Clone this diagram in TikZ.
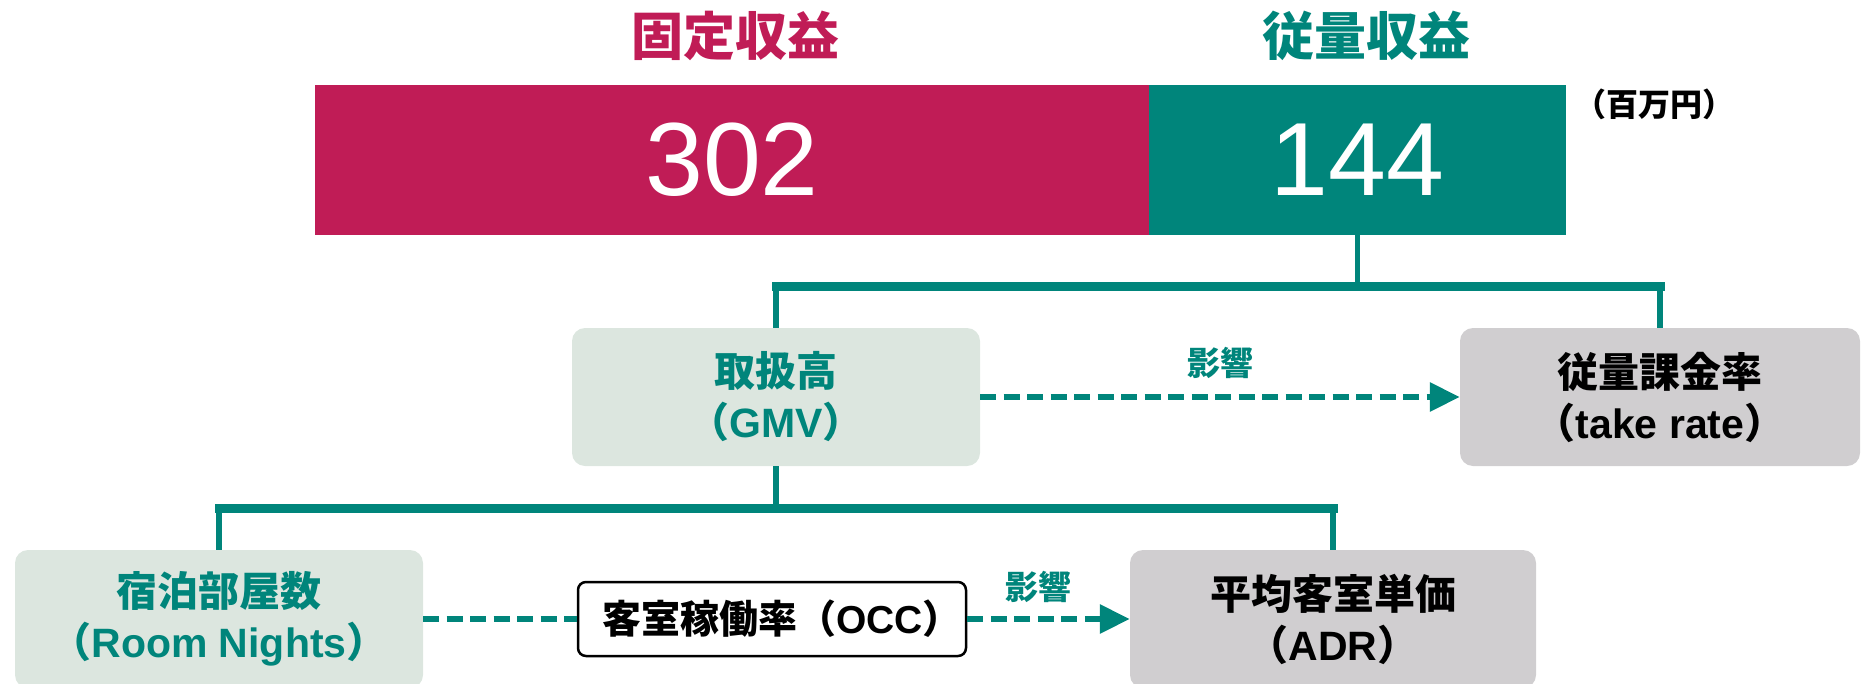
\documentclass[tikz,border=0pt]{standalone}
\usepackage{fontspec}
\setmainfont{Liberation Sans}
\newfontfamily\jp{Noto Sans CJK JP}
\usetikzlibrary{arrows.meta}
\definecolor{mag}{HTML}{C01C56}
\definecolor{mteal}{HTML}{00857B}
\definecolor{lgreen}{HTML}{DCE6DF}
\definecolor{lgray}{HTML}{D0CED0}
\newcommand\J[1]{{\jp #1}}
\tikzset{
  barbox/.style={rectangle, inner sep=0pt, text=white, font=\fontsize{104}{104}\selectfont},
  title/.style={inner sep=0pt, font=\fontsize{52}{52}\selectfont\bfseries},
  kbox/.style={rectangle, rounded corners=13pt, inner sep=0pt, minimum width=408pt, minimum height=138pt, align=center, font=\fontsize{41}{51}\selectfont\bfseries},
  gbox/.style={kbox, fill=lgreen, text=mteal},
  ybox/.style={kbox, fill=lgray, text=black},
  occbox/.style={rectangle, draw=black, line width=2.5pt, rounded corners=8pt, fill=white, inner sep=0pt, minimum width=388pt, minimum height=74pt, font=\fontsize{39}{39}\selectfont\bfseries},
  treeline/.style={draw=mteal, line width=5.5pt},
  treebar/.style={draw=mteal, line width=9pt, line cap=rect},
  dashline/.style={draw=mteal, line width=6pt, dash pattern=on 16pt off 7.5pt},
  tip/.style={-{Triangle[length=30pt,width=28pt]}},
  inflabel/.style={inner sep=0pt, text=mteal, font=\fontsize{33}{33}\selectfont\bfseries},
}
\begin{document}
\begin{tikzpicture}[x=1pt,y=-1pt]
\clip (0,0) rectangle (1863,683);
\useasboundingbox (0,0) rectangle (1863,683);
% titles
\node[title, text=mag] (t1) at (735,36) {\J{固定収益}};
\node[title, text=mteal] (t2) at (1366,36) {\J{従量収益}};
% bars
\node[barbox, fill=mag, minimum width=834pt, minimum height=150pt] (b302) at (732,160) {302};
\node[barbox, fill=mteal, minimum width=417pt, minimum height=150pt] (b144) at (1357.5,160) {144};
\node[inner sep=0pt, font=\fontsize{32}{32}\selectfont\bfseries] (unit) at (1654,104) {\J{（百万円）}};
% level 1 boxes
\node[gbox] (gmv) at (776,397) {\J{取扱高}\\\J{（}GMV\J{）}};
\node[ybox, minimum width=400pt] (take) at (1660,397) {\J{従量課金率}\\\J{（}take rate\J{）}};
% level 2 boxes
\node[gbox] (rooms) at (219,619) {\J{宿泊部屋数}\\\J{（}Room Nights\J{）}};
\node[ybox, minimum width=406pt] (adr) at (1333,619) {\J{平均客室単価}\\\J{（}ADR\J{）}};
\node[occbox] (occ) at (772,619) {\kern20pt\J{客室稼働率（}OCC\J{）}};
% tree 1
\coordinate (j1) at (1357.5,286);
\draw[treeline] (b144.south) -- (j1);
\draw[treeline] (gmv.north) -- (gmv.north |- j1);
\draw[treeline] (take.north) -- (take.north |- j1);
\draw[treebar] (gmv.north |- j1) -- (take.north |- j1);
% tree 2
\coordinate (j2) at (776,508);
\draw[treeline] (gmv.south) -- (j2);
\draw[treeline] (rooms.north) -- (rooms.north |- j2);
\draw[treeline] (adr.north) -- (adr.north |- j2);
\draw[treebar] (rooms.north |- j2) -- (adr.north |- j2);
% influence arrows
\draw[dashline, tip] (gmv.east) -- (take.west) node[midway, above=15pt, inflabel] (l1) {\J{影響}};
\draw[dashline] (rooms.east) -- (occ.west);
\draw[dashline, tip] (occ.east) -- (adr.west);
\node[inflabel] (l2) at (1038,587) {\J{影響}};
\end{tikzpicture}
\end{document}
